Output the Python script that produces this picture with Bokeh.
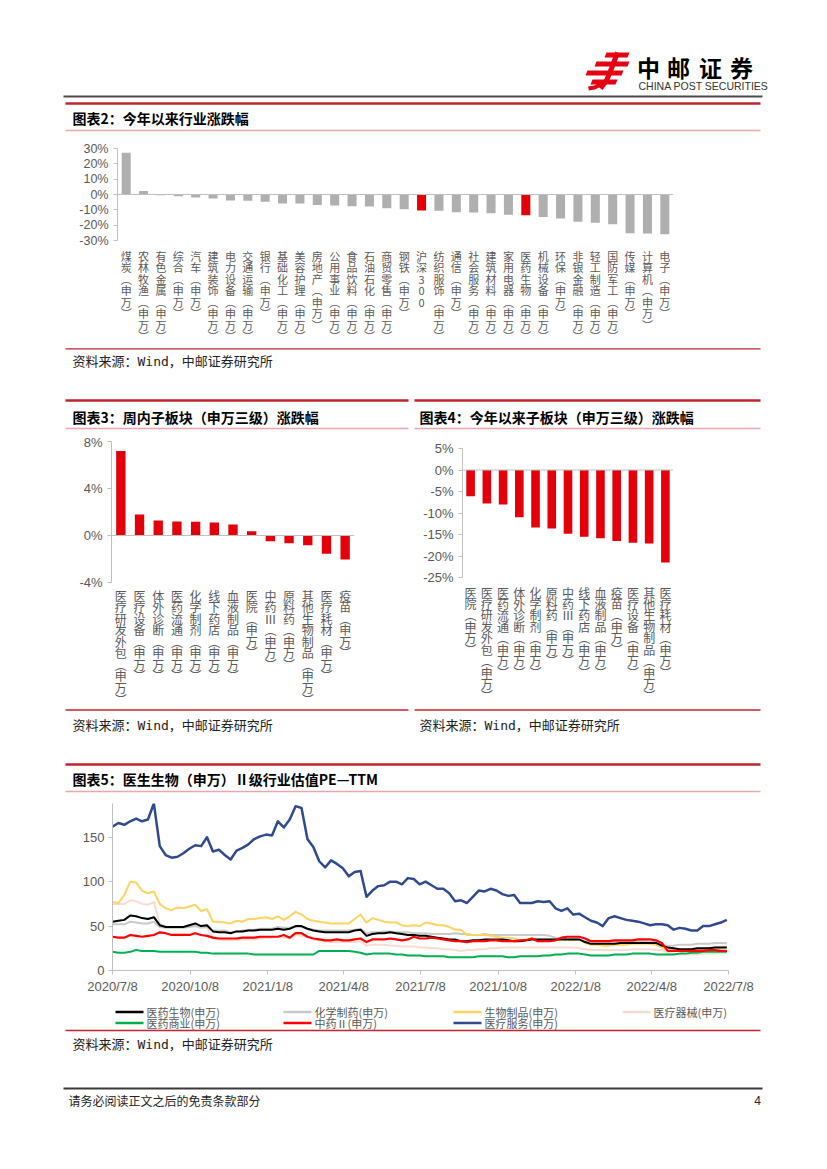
import pandas as pd
from bokeh.plotting import figure
from bokeh.layouts import column, row
from bokeh.models import Range1d, FactorRange, FixedTicker, PrintfTickFormatter, Span
from bokeh.core.properties import value
from bokeh.embed import file_html
from bokeh.resources import INLINE

CJK = "Noto Sans CJK SC"
SANS = "Liberation Sans"
MONO_CJK = "DejaVu Sans Mono, Noto Sans CJK SC"

# ---------------- 图表2：今年以来行业涨跌幅 (%)
ind_names = ["煤炭(申万)", "农林牧渔(申万)", "有色金属(申万)", "综合(申万)", "汽车(申万)",
             "建筑装饰(申万)", "电力设备(申万)", "交通运输(申万)", "银行(申万)", "基础化工(申万)",
             "美容护理(申万)", "房地产(申万)", "公用事业(申万)", "食品饮料(申万)", "石油石化(申万)",
             "商贸零售(申万)", "钢铁(申万)", "沪深300", "纺织服饰(申万)", "通信(申万)",
             "社会服务(申万)", "建筑材料(申万)", "家用电器(申万)", "医药生物(申万)", "机械设备(申万)",
             "环保(申万)", "非银金融(申万)", "轻工制造(申万)", "国防军工(申万)", "传媒(申万)",
             "计算机(申万)", "电子(申万)"]
ind_vals = [27.3, 2.3, -0.5, -1.1, -2.0, -2.6, -3.9, -4.1, -4.8, -5.8, -5.8, -6.9, -7.1, -7.6,
            -7.8, -8.9, -9.7, -10.4, -10.6, -11.6, -11.7, -12.3, -13.2, -13.6, -14.7, -15.6,
            -17.7, -18.4, -19.4, -25.3, -25.5, -25.9]
ind_red = ["沪深300", "医药生物(申万)"]
ind_ticks = [-30, -20, -10, 0, 10, 20, 30]

# ---------------- 图表3：周内子板块（申万三级）涨跌幅 (%)
wk_names = ["医疗研发外包(申万)", "医疗设备(申万)", "体外诊断(申万)", "医药流通(申万)", "化学制剂(申万)",
            "线下药店(申万)", "血液制品(申万)", "医院(申万)", "中药Ⅲ(申万)", "原料药(申万)",
            "其他生物制品(申万)", "医疗耗材(申万)", "疫苗(申万)"]
wk_vals = [7.2, 1.79, 1.28, 1.19, 1.16, 1.1, 0.94, 0.37, -0.48, -0.65, -0.82, -1.56, -2.04]
wk_ticks = [-4, 0, 4, 8]

# ---------------- 图表4：今年以来子板块（申万三级）涨跌幅 (%)
ytd_names = ["医院(申万)", "医疗研发外包(申万)", "医药流通(申万)", "体外诊断(申万)", "化学制剂(申万)",
             "原料药(申万)", "中药Ⅲ(申万)", "线下药店(申万)", "血液制品(申万)", "疫苗(申万)",
             "医疗设备(申万)", "其他生物制品(申万)", "医疗耗材(申万)"]
ytd_vals = [-6.1, -7.8, -8.0, -11.0, -13.4, -13.6, -14.8, -15.5, -15.9, -16.5, -16.9, -17.1, -21.5]
ytd_ticks = [-25, -20, -15, -10, -5, 0, 5]

# ---------------- 图表5：PE-TTM (weekly from 2020-07-08)
pe_start = "2020-07-08"
pe_tick_labels = ["2020/7/8", "2020/10/8", "2021/1/8", "2021/4/8", "2021/7/8",
                  "2021/10/8", "2022/1/8", "2022/4/8", "2022/7/8"]
pe_yticks = [0, 50, 100, 150]

pe_yyswu = [55, 56, 57, 62, 61, 59, 58, 60, 51, 49,
            49, 49, 49, 51, 53, 50, 51, 44, 43, 43,
            42, 44, 44, 45, 45, 46, 46, 46, 47, 46,
            47, 50, 50, 47, 45, 44, 43, 43, 43, 43,
            43, 45, 46, 39, 41, 42, 42, 43, 42, 41,
            40, 40, 39, 39, 38, 37, 36, 35, 35, 33,
            33, 34, 34, 35, 35, 35, 35, 34, 33, 33,
            34, 35, 35, 35, 35, 35, 35, 35, 35, 35,
            32, 30, 30, 30, 30, 30, 31, 31, 31, 31,
            31, 31, 31, 28, 26, 25, 24, 24, 24, 25,
            25, 25, 26, 26, 26]
pe_hxzy = [52, 52, 52, 55, 54, 53, 53, 55, 49, 48,
           48, 48, 48, 49, 50, 49, 49, 45, 45, 45,
           43, 44, 45, 46, 46, 47, 47, 47, 49, 48,
           48, 49, 49, 47, 46, 45, 45, 45, 45, 45,
           45, 46, 47, 42, 43, 43, 44, 44, 43, 43,
           43, 42, 42, 42, 41, 41, 41, 41, 42, 41,
           41, 40, 40, 41, 40, 40, 40, 40, 40, 40,
           40, 40, 40, 40, 39, 37, 36, 36, 36, 35,
           33, 33, 33, 33, 33, 33, 33, 33, 33, 33,
           33, 32, 32, 29, 28, 28, 29, 29, 29, 30,
           30, 30, 31, 31, 31]
pe_swzp = [77, 76, 85, 100, 99, 90, 87, 89, 75, 70,
           68, 71, 70, 72, 74, 67, 69, 55, 55, 54,
           53, 56, 55, 58, 58, 59, 60, 58, 61, 57,
           61, 66, 63, 58, 56, 55, 54, 53, 53, 53,
           53, 58, 63, 54, 59, 57, 55, 54, 54, 51,
           50, 51, 50, 54, 53, 51, 51, 49, 46, 46,
           40, 40, 40, 40, 39, 38, 37, 37, 36, 34,
           35, 36, 35, 35, 35, 35, 35, 35, 34, 35,
           31, 29, 29, 28, 28, 29, 29, 29, 30, 30,
           30, 30, 29, 26, 22, 23, 22, 22, 23, 24,
           24, 25, 26, 26, 27]
pe_ylqx = [75, 75, 75, 79, 78, 75, 74, 77, 53, 49,
           48, 48, 49, 49, 50, 48, 48, 36, 35, 34,
           34, 35, 35, 35, 35, 36, 37, 37, 38, 37,
           36, 40, 39, 38, 35, 34, 33, 32, 32, 32,
           32, 32, 33, 28, 29, 29, 29, 28, 28, 27,
           27, 27, 26, 26, 25, 25, 24, 24, 23, 22,
           23, 23, 24, 24, 25, 25, 26, 26, 26, 26,
           26, 26, 26, 26, 26, 26, 26, 26, 26, 25,
           24, 23, 23, 23, 23, 23, 23, 23, 24, 24,
           24, 24, 23, 23, 20, 19, 18, 18, 18, 18,
           19, 19, 19, 20, 20]
pe_yysy = [21, 20, 20, 21, 23, 22, 22, 22, 21, 21,
           21, 21, 21, 21, 21, 20, 20, 19, 19, 19,
           19, 19, 19, 19, 18, 18, 18, 18, 18, 18,
           18, 18, 18, 18, 18, 22, 22, 22, 22, 22,
           22, 21, 20, 18, 19, 19, 19, 19, 18, 18,
           17, 17, 17, 16, 16, 16, 16, 15, 15, 15,
           15, 15, 16, 16, 16, 16, 16, 15, 15, 16,
           16, 16, 16, 17, 17, 18, 18, 19, 19, 19,
           18, 17, 17, 17, 17, 18, 18, 18, 19, 19,
           19, 19, 18, 18, 18, 18, 19, 19, 20, 20,
           21, 21, 21, 21, 21]
pe_zy = [38, 37, 37, 40, 39, 38, 39, 40, 43, 42,
         40, 40, 40, 40, 42, 40, 39, 37, 36, 36,
         36, 36, 37, 37, 37, 38, 38, 38, 38, 40,
         37, 42, 42, 38, 36, 35, 34, 34, 35, 34,
         34, 35, 36, 32, 35, 35, 35, 36, 35, 34,
         35, 38, 36, 36, 37, 36, 35, 34, 33, 33,
         32, 33, 33, 33, 34, 34, 33, 33, 33, 34,
         34, 36, 33, 33, 33, 34, 37, 38, 38, 38,
         36, 33, 33, 33, 33, 34, 34, 34, 34, 35,
         35, 35, 34, 31, 22, 22, 22, 22, 22, 22,
         22, 23, 23, 22, 22]
pe_ylfw = [162, 166, 164, 168, 171, 168, 170, 188, 140, 130,
           127, 128, 132, 137, 141, 140, 150, 134, 136, 130,
           125, 135, 138, 142, 148, 151, 153, 152, 168, 161,
           170, 185, 183, 148, 139, 123, 116, 124, 120, 115,
           106, 111, 112, 83, 90, 95, 96, 100, 100, 97,
           104, 103, 97, 100, 96, 92, 92, 87, 78, 79,
           76, 83, 90, 89, 92, 90, 86, 84, 85, 76,
           76, 76, 78, 77, 78, 70, 67, 70, 63, 64,
           60, 56, 54, 50, 59, 61, 59, 57, 56, 55,
           53, 51, 52, 52, 51, 46, 48, 47, 45, 45,
           50, 50, 52, 54, 57]

pe_series = [("医疗器械(申万)", pe_ylqx, "#f8dcd2", 2.0),
             ("化学制药(申万)", pe_hxzy, "#c9c9c9", 2.0),
             ("生物制品(申万)", pe_swzp, "#fdd45f", 2.0),
             ("医药生物(申万)", pe_yyswu, "#000000", 2.0),
             ("医药商业(申万)", pe_yysy, "#00b050", 2.0),
             ("中药Ⅱ(申万)", pe_zy, "#ff0000", 2.2),
             ("医疗服务(申万)", pe_ylfw, "#2f4b8e", 2.5)]

RED_BAR = "#e3000b"
GREY_BAR = "#afafaf"
RULE_RED = "#c0242b"
RULE_PINK = "#e8a9ae"
AX = "#bfbfbf"
LBL = "#595959"
W = 827


def vert(s):
    return "\n".join(s.replace("(", "︵").replace(")", "︶"))


def deco(y0, h, x0=0, w=W):
    p = figure(width=w, height=h, x_range=Range1d(x0, x0 + w), y_range=Range1d(y0 + h, y0),
               toolbar_location=None, output_backend="svg", min_border=0,
               x_axis_location=None, y_axis_location=None, outline_line_color=None,
               background_fill_color="white", border_fill_color="white")
    p.grid.visible = False
    p.frame_align = False
    return p


def txt(p, x, y, s, size, color="#000000", font=CJK, bold=False, align="left"):
    p.text(x=[x], y=[y], text=[s], text_font=value(font), text_font_size=size,
           text_color=color, text_font_style="bold" if bold else "normal",
           text_align=align, text_baseline="middle")


def hl(p, x0, x1, y, color, w):
    p.segment(x0=[x0], y0=[y], x1=[x1], y1=[y], line_color=color, line_width=w)


def bar_chart(names, vals, colors, ticks, fig_top, h, w, frame_l, frame_r, frame_top, axis_bot,
              fs_y, fs_x, lh, bw, yoff):
    """fig_top/frame_top/axis_bot are page y positions; frame_l/frame_r are x within the figure."""
    facs = [vert(n) for n in names]
    ymin, ymax = ticks[0], ticks[-1]
    ppu = (axis_bot - frame_top) / (ymax - ymin)
    y_start = ymin - ((fig_top + h) - axis_bot) / ppu
    p = figure(width=w, height=h, x_range=FactorRange(factors=facs, range_padding=0),
               y_range=Range1d(y_start, ymax), toolbar_location=None, output_backend="svg",
               min_border_left=frame_l, min_border_right=w - frame_r,
               min_border_top=frame_top - fig_top, min_border_bottom=0,
               x_axis_location=None,
               outline_line_color=None, background_fill_color="white", border_fill_color="white")
    p.frame_align = False
    p.grid.visible = False
    p.vbar(x=facs, top=vals, bottom=0, width=bw, color=colors, line_color=None)
    p.add_layout(Span(location=0, dimension="width", line_color=AX, line_width=1))
    p.text(x=facs, y=[ymin] * len(facs), text=facs, text_font=value(CJK), text_font_size=fs_x,
           text_color=LBL, text_align="center", text_baseline="top", y_offset=yoff,
           text_line_height=lh)
    ya = p.yaxis[0]
    ya.bounds = (ymin, ymax)
    ya.ticker = FixedTicker(ticks=ticks)
    ya.formatter = PrintfTickFormatter(format="%d%%")
    ya.axis_line_color = AX
    ya.major_tick_line_color = AX
    ya.major_tick_out = 4
    ya.major_tick_in = 0
    ya.minor_tick_line_color = None
    ya.major_label_text_font = SANS
    ya.major_label_text_font_size = fs_y
    ya.major_label_text_color = LBL
    ya.major_label_standoff = 5
    return p


# ---------------- band 1: header + title 2  (page y 0..140)
b1 = deco(0, 140)
L = "#e60012"
b1.patches(xs=[[606, 629, 627, 604], [596, 629, 627, 594], [587, 623, 621, 585], [592, 617, 615, 590]],
           ys=[[52, 52, 57, 57], [61, 61, 66, 66], [70, 70, 75, 75], [79, 79, 84, 84]],
           color=L, line_color=None)
b1.line(x=[617, 611, 606, 600], y=[52, 68, 80, 88], line_color=L, line_width=5)
b1.line(x=[600, 594, 588], y=[84, 87, 88], line_color=L, line_width=4)
for ch, cx in zip("中邮证券", [648, 678, 710, 741]):
    txt(b1, cx, 66, ch, "23px", "#000000", CJK, True, "center")
txt(b1, 638, 85, "CHINA POST SECURITIES", "10.5px", "#333333", SANS)
hl(b1, 63, 762, 96, "#4a4a4a", 2)
hl(b1, 65, 760, 103, RULE_RED, 2.5)
txt(b1, 72, 117, "图表2：今年以来行业涨跌幅", "14px", "#000000", CJK, True)
hl(b1, 65, 760, 130, RULE_PINK, 1.3)

# ---------------- band 2: chart 2 (page y 140..347)
c2 = bar_chart(ind_names, ind_vals, [RED_BAR if n in ind_red else GREY_BAR for n in ind_names],
               ind_ticks, 140, 207, W, 117, 673, 148, 240, "12.5px", "11px", 0.72, 0.52, 7)

# ---------------- band 3 (page y 347..434)
b3 = deco(347, 87)
hl(b3, 65, 760, 348.3, RULE_RED, 1.3)
txt(b3, 72, 361, "资料来源：Wind，中邮证券研究所", "13px", "#222222", MONO_CJK)
hl(b3, 65, 408, 400, RULE_RED, 2.5)
hl(b3, 414, 760, 400, RULE_RED, 2.5)
txt(b3, 72, 416, "图表3：周内子板块（申万三级）涨跌幅", "14px", "#000000", CJK, True)
txt(b3, 419, 416, "图表4：今年以来子板块（申万三级）涨跌幅", "14px", "#000000", CJK, True)
hl(b3, 65, 408, 428, RULE_PINK, 1.3)
hl(b3, 414, 760, 428, RULE_PINK, 1.3)

# ---------------- band 4: charts 3 & 4 (page y 434..708)
c3 = bar_chart(wk_names, wk_vals, [RED_BAR] * len(wk_names), wk_ticks,
               434, 274, 412, 111, 354, 441, 582, "13px", "12px", 0.68, 0.5, 4)
c4 = bar_chart(ytd_names, ytd_vals, [RED_BAR] * len(ytd_names), ytd_ticks,
               434, 274, W - 412, 462 - 412, 673 - 412, 448, 577, "13px", "12px", 0.675, 0.53, 6)

# ---------------- band 5 (page y 708..800)
b5 = deco(708, 92)
hl(b5, 65, 408, 709.5, RULE_RED, 1.3)
hl(b5, 414, 760, 709.5, RULE_RED, 1.3)
txt(b5, 72, 725, "资料来源：Wind，中邮证券研究所", "13px", "#222222", MONO_CJK)
txt(b5, 419, 725, "资料来源：Wind，中邮证券研究所", "13px", "#222222", MONO_CJK)
hl(b5, 65, 760, 764, RULE_RED, 2.5)
txt(b5, 72, 778, "图表5：医生生物（申万）Ⅱ级行业估值PE—TTM", "14px", "#000000", CJK, True)
hl(b5, 65, 760, 791, RULE_PINK, 1.3)

# ---------------- band 6: chart 5 (page y 800..1004)
t0 = pd.Timestamp(pe_start)
n = len(pe_ylfw)
days = [(d - t0).days for d in pd.date_range(pe_start, periods=n, freq="7D")]
tick_days = [(pd.to_datetime(s, format="%Y/%m/%d") - t0).days for s in pe_tick_labels]
c5 = figure(width=W, height=204, x_range=Range1d(0, tick_days[-1]), y_range=Range1d(0, 188),
            toolbar_location=None, output_backend="svg",
            min_border_left=112, min_border_right=W - 728, min_border_top=3, min_border_bottom=34,
            outline_line_color=None, background_fill_color="white", border_fill_color="white")
c5.frame_align = False
c5.grid.visible = False
for name, ys, col, lw in pe_series:
    c5.line(x=days, y=ys, line_color=col, line_width=lw, line_join="round")
xa = c5.xaxis[0]
xa.ticker = FixedTicker(ticks=tick_days)
xa.major_label_overrides = {d: s for d, s in zip(tick_days, pe_tick_labels)}
ya = c5.yaxis[0]
ya.ticker = FixedTicker(ticks=pe_yticks)
for ax in (xa, ya):
    ax.axis_line_color = AX
    ax.major_tick_line_color = AX
    ax.major_tick_out = 4
    ax.major_tick_in = 0
    ax.minor_tick_line_color = None
    ax.major_label_text_font = SANS
    ax.major_label_text_font_size = "13px"
    ax.major_label_text_color = LBL
    ax.major_label_standoff = 4

# ---------------- band 7 (page y 1004..1168)
b7 = deco(1004, 164)
leg_pos = [(115, 1011.5), (283, 1011.5), (453, 1011.5), (622, 1011.5),
           (115, 1022.5), (283, 1022.5), (453, 1022.5)]
leg_order = ["医药生物(申万)", "化学制药(申万)", "生物制品(申万)", "医疗器械(申万)",
             "医药商业(申万)", "中药Ⅱ(申万)", "医疗服务(申万)"]
sty = {nm: (col, lw) for nm, _, col, lw in pe_series}
for nm, (lx, ly) in zip(leg_order, leg_pos):
    col, lw = sty[nm]
    b7.segment(x0=[lx], y0=[ly], x1=[lx + 28], y1=[ly], line_color=col, line_width=max(lw, 2.5))
    txt(b7, lx + 31, ly, nm, "11px", LBL, CJK)
hl(b7, 65, 760, 1030, RULE_RED, 1.3)
txt(b7, 72, 1044, "资料来源：Wind，中邮证券研究所", "13px", "#222222", MONO_CJK)
hl(b7, 63, 762, 1088, "#3a3a3a", 2)
txt(b7, 68, 1100, "请务必阅读正文之后的免责条款部分", "12px", "#222222", CJK)
txt(b7, 757, 1100, "4", "12px", "#222222", SANS, False, "center")

page = column(b1, c2, b3, row(c3, c4, spacing=0), b5, c5, b7, spacing=0)
open("out.html", "w").write(file_html(page, INLINE))
